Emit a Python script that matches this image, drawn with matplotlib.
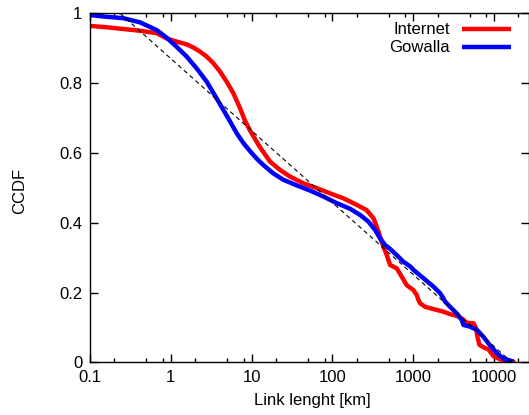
import matplotlib
matplotlib.use("Agg")
import matplotlib.pyplot as plt
from matplotlib.ticker import FixedLocator, NullFormatter, FixedFormatter
from matplotlib.lines import Line2D

plt.rcParams['font.family'] = ['Liberation Sans', 'DejaVu Sans']

# ---- data ----
internet_x = [0.1, 0.161, 0.259, 0.416, 0.668, 0.889, 1.18, 1.57, 1.90, 2.30, 2.78, 3.36,
              4.06, 4.91, 5.94, 7.18, 8.28, 9.55, 11.0, 12.7, 16.9, 22.5, 29.9, 43.6, 64,
              93.4, 136, 200, 265, 321, 353, 388, 427, 470, 516, 625, 720, 828, 1002, 1102,
              1156, 1213, 1399, 1614, 1951, 2360, 2851, 3450, 3980, 4590, 5550, 5980, 6220,
              6580, 7380, 8510, 9800, 11850, 15770, 18200]
internet_y = [0.964, 0.960, 0.955, 0.950, 0.943, 0.928, 0.919, 0.911, 0.902, 0.890, 0.876,
              0.857, 0.833, 0.804, 0.771, 0.728, 0.692, 0.664, 0.640, 0.616, 0.575, 0.551,
              0.532, 0.513, 0.499, 0.484, 0.470, 0.451, 0.436, 0.413, 0.389, 0.360, 0.331,
              0.307, 0.279, 0.269, 0.245, 0.221, 0.207, 0.193, 0.179, 0.169, 0.159, 0.155,
              0.150, 0.145, 0.138, 0.133, 0.126, 0.113, 0.112, 0.097, 0.073, 0.050, 0.043,
              0.037, 0.018, 0.0086, 0.0037, 0.0]

gowalla_x = [0.1, 0.161, 0.259, 0.416, 0.668, 0.889, 1.18, 1.57, 2.09, 2.78, 3.69, 4.47,
             5.41, 6.54, 7.92, 9.55, 11.6, 14.0, 18.6, 24.7, 36.1, 52.8, 77.1, 113, 165,
             220, 279, 337, 388, 448, 516, 625, 754, 912, 1002, 1333, 1774, 2147, 2360,
             2474, 2851, 3450, 3980, 4175, 5047, 6105, 7380, 8510, 10800, 13040, 17340]
gowalla_y = [0.995, 0.990, 0.986, 0.974, 0.952, 0.930, 0.904, 0.876, 0.842, 0.804, 0.756,
             0.723, 0.690, 0.656, 0.628, 0.605, 0.583, 0.565, 0.541, 0.523, 0.507, 0.492,
             0.475, 0.456, 0.440, 0.422, 0.403, 0.379, 0.355, 0.336, 0.325, 0.307, 0.288,
             0.275, 0.265, 0.241, 0.217, 0.198, 0.183, 0.174, 0.159, 0.140, 0.121, 0.107,
             0.102, 0.093, 0.073, 0.054, 0.026, 0.011, 0.002]

fit_x = [0.235, 48, 16560]
fit_y = [1.0, 0.523, 0.0]

series_labels = ["Internet", "Gowalla"]
series_colors = ["#ff0000", "#0000ff"]

xticks = [0.1, 1, 10, 100, 1000, 10000]
xtick_labels = ["0.1", "1", "10", "100", "1000", "10000"]
yticks = [0, 0.2, 0.4, 0.6, 0.8, 1]
ytick_labels = ["0", "0.2", "0.4", "0.6", "0.8", "1"]

# ---- figure ----
W, H = 529, 415
fig = plt.figure(figsize=(W / 100, H / 100), dpi=100)
left_px, right_px, top_px, bot_px = 90, 529, 13.3, 362.3
ax = fig.add_axes([left_px / W, 1 - bot_px / H, (right_px - left_px) / W, (bot_px - top_px) / H])

lw = 3.2
ax.plot(fit_x, fit_y, color='black', lw=0.8, ls=(0, (4, 3)), zorder=3)
ax.plot(internet_x, internet_y, color=series_colors[0], lw=lw, zorder=2,
        solid_joinstyle='round', solid_capstyle='butt')
ax.plot(gowalla_x, gowalla_y, color=series_colors[1], lw=lw, zorder=2,
        solid_joinstyle='round', solid_capstyle='butt')

ax.set_xscale('log')
ax.set_xlim(0.1, 27000)
ax.set_ylim(0, 1)

ax.xaxis.set_major_locator(FixedLocator(xticks))
ax.xaxis.set_major_formatter(FixedFormatter(xtick_labels))
minors = []
for d in [0.1, 1, 10, 100, 1000, 10000]:
    for m in (2, 5, 8):
        minors.append(d * m)
ax.xaxis.set_minor_locator(FixedLocator(minors))
ax.xaxis.set_minor_formatter(NullFormatter())
ax.yaxis.set_major_locator(FixedLocator(yticks))
ax.yaxis.set_major_formatter(FixedFormatter(ytick_labels))

ax.tick_params(which='both', direction='in', top=True, right=True, width=1.0, colors='black',
               labelsize=12, pad=5.5)
ax.tick_params(which='major', length=5.8)
ax.tick_params(which='minor', length=3.0)
for s in ax.spines.values():
    s.set_linewidth(1.0)

ax.set_xlabel("Link lenght [km]", fontsize=12)
ax.set_ylabel("CCDF", fontsize=12)
ax.xaxis.set_label_coords((312 - left_px) / (right_px - left_px), (bot_px - 393) / (bot_px - top_px))
ax.yaxis.set_label_coords((27 - left_px) / (right_px - left_px), (bot_px - 191) / (bot_px - top_px))

# legend (gnuplot style: right-aligned text, then sample)
def ax_x(px):
    return (px - left_px) / (right_px - left_px)

def ax_y(py):
    return (bot_px - py) / (bot_px - top_px)

for lbl, col, py in zip(series_labels, series_colors, [29.3, 47.3]):
    ax.text(ax_x(450), ax_y(py), lbl, transform=ax.transAxes, ha='right', va='center',
            fontsize=12)
    ax.add_line(Line2D([ax_x(462), ax_x(511)], [ax_y(py), ax_y(py)], transform=ax.transAxes,
                       color=col, lw=lw, solid_capstyle='butt'))

fig.savefig("out.png", dpi=100)
